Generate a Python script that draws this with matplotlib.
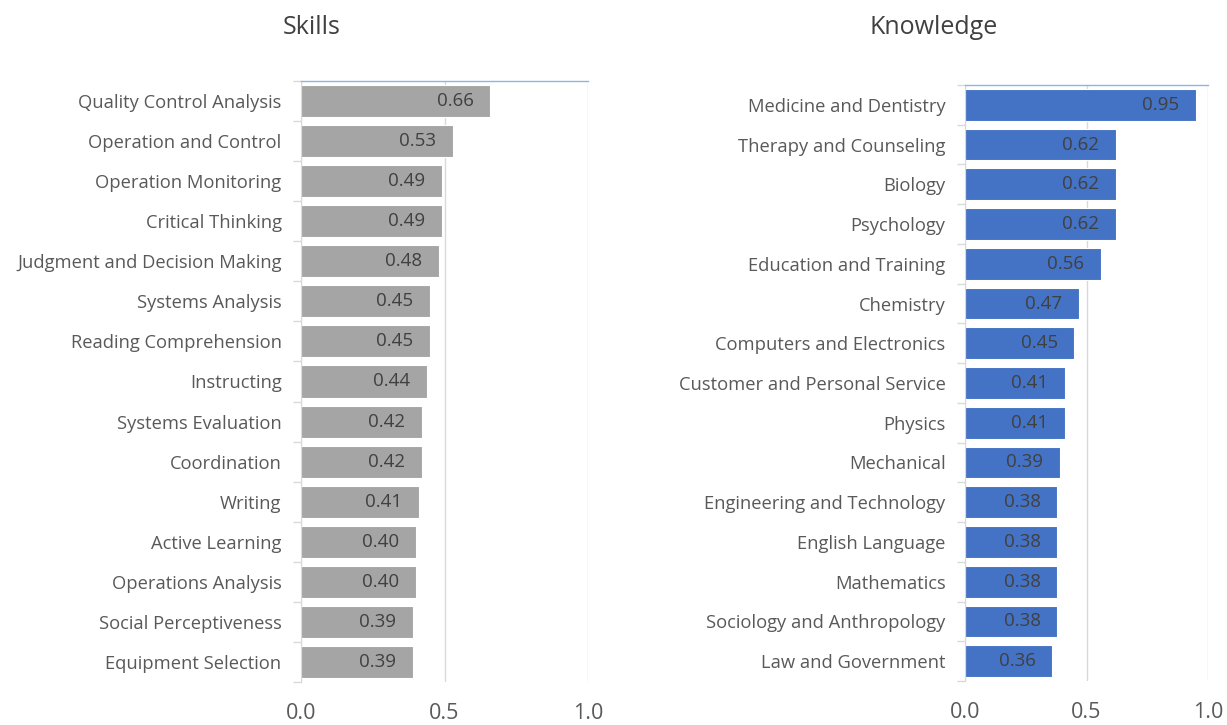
import matplotlib
matplotlib.use("Agg")
import matplotlib.pyplot as plt
import numpy as np

plt.rcParams["font.family"] = ["Open Sans", "DejaVu Sans"]

skills = ["Quality Control Analysis", "Operation and Control", "Operation Monitoring",
          "Critical Thinking", "Judgment and Decision Making", "Systems Analysis",
          "Reading Comprehension", "Instructing", "Systems Evaluation", "Coordination",
          "Writing", "Active Learning", "Operations Analysis", "Social Perceptiveness",
          "Equipment Selection"]
skill_vals = [0.66, 0.53, 0.49, 0.49, 0.48, 0.45, 0.45, 0.44, 0.42, 0.42,
              0.41, 0.40, 0.40, 0.39, 0.39]

knowledge = ["Medicine and Dentistry", "Therapy and Counseling", "Biology", "Psychology",
             "Education and Training", "Chemistry", "Computers and Electronics",
             "Customer and Personal Service", "Physics", "Mechanical",
             "Engineering and Technology", "English Language", "Mathematics",
             "Sociology and Anthropology", "Law and Government"]
knowledge_vals = [0.95, 0.62, 0.62, 0.62, 0.56, 0.47, 0.45, 0.41, 0.41, 0.39,
                  0.38, 0.38, 0.38, 0.38, 0.36]

xticks = [0.0, 0.5, 1.0]

GRID = "#d9d9d9"
TEXT = "#595959"
LABEL = "#404040"


def panel(ax, names, vals, color, title, title_x):
    n = len(names)
    y = np.arange(n)
    ax.barh(y, vals, height=0.8, color=color, edgecolor="white", linewidth=0.8, zorder=2)
    for yi, v in zip(y, vals):
        # value sits inside the bar end, a fixed pixel gap from its tip
        ax.annotate(f"{v:.2f}", (v, yi), xytext=(-12, 0), textcoords="offset points",
                    ha="right", va="center", fontsize=13.5, color=LABEL, zorder=3)
    ax.set_xlim(0, 1.0)
    ax.set_ylim(n - 0.5, -0.5)
    ax.set_xticks(xticks)
    ax.set_xticklabels([f"{t:.1f}" for t in xticks], fontsize=15.5, color=TEXT)
    ax.tick_params(axis="x", length=0, pad=15)
    ax.set_yticks(y)
    ax.set_yticklabels(names, fontsize=13.2, color=TEXT)
    ax.tick_params(axis="y", which="major", length=0, pad=14)
    ax.set_yticks(np.arange(n + 1) - 0.5, minor=True)
    ax.tick_params(axis="y", which="minor", length=6, color=GRID, width=1)
    ax.xaxis.grid(True, color=GRID, linewidth=1, zorder=0)
    ax.set_axisbelow(True)
    for side in ("right", "bottom"):
        ax.spines[side].set_visible(False)
    ax.spines["left"].set_color(GRID)
    ax.spines["top"].set_color("#8eb4e3")
    ax.spines["top"].set_linewidth(1)
    ax.figure.text(title_x, 1 - 27 / 725, title, ha="center", va="center",
                   fontsize=18, color=LABEL)


fig = plt.figure(figsize=(12.27, 7.25), dpi=100)
ax1 = fig.add_axes([301 / 1227, 1 - 682 / 725, 287 / 1227, 601 / 725])
ax2 = fig.add_axes([965 / 1227, 1 - 681 / 725, 243 / 1227, 596 / 725])

panel(ax1, skills, skill_vals, "#a5a5a5", "Skills", 312 / 1227)
panel(ax2, knowledge, knowledge_vals, "#4472c4", "Knowledge", 934 / 1227)

fig.savefig("out.png", dpi=100, facecolor="white")
